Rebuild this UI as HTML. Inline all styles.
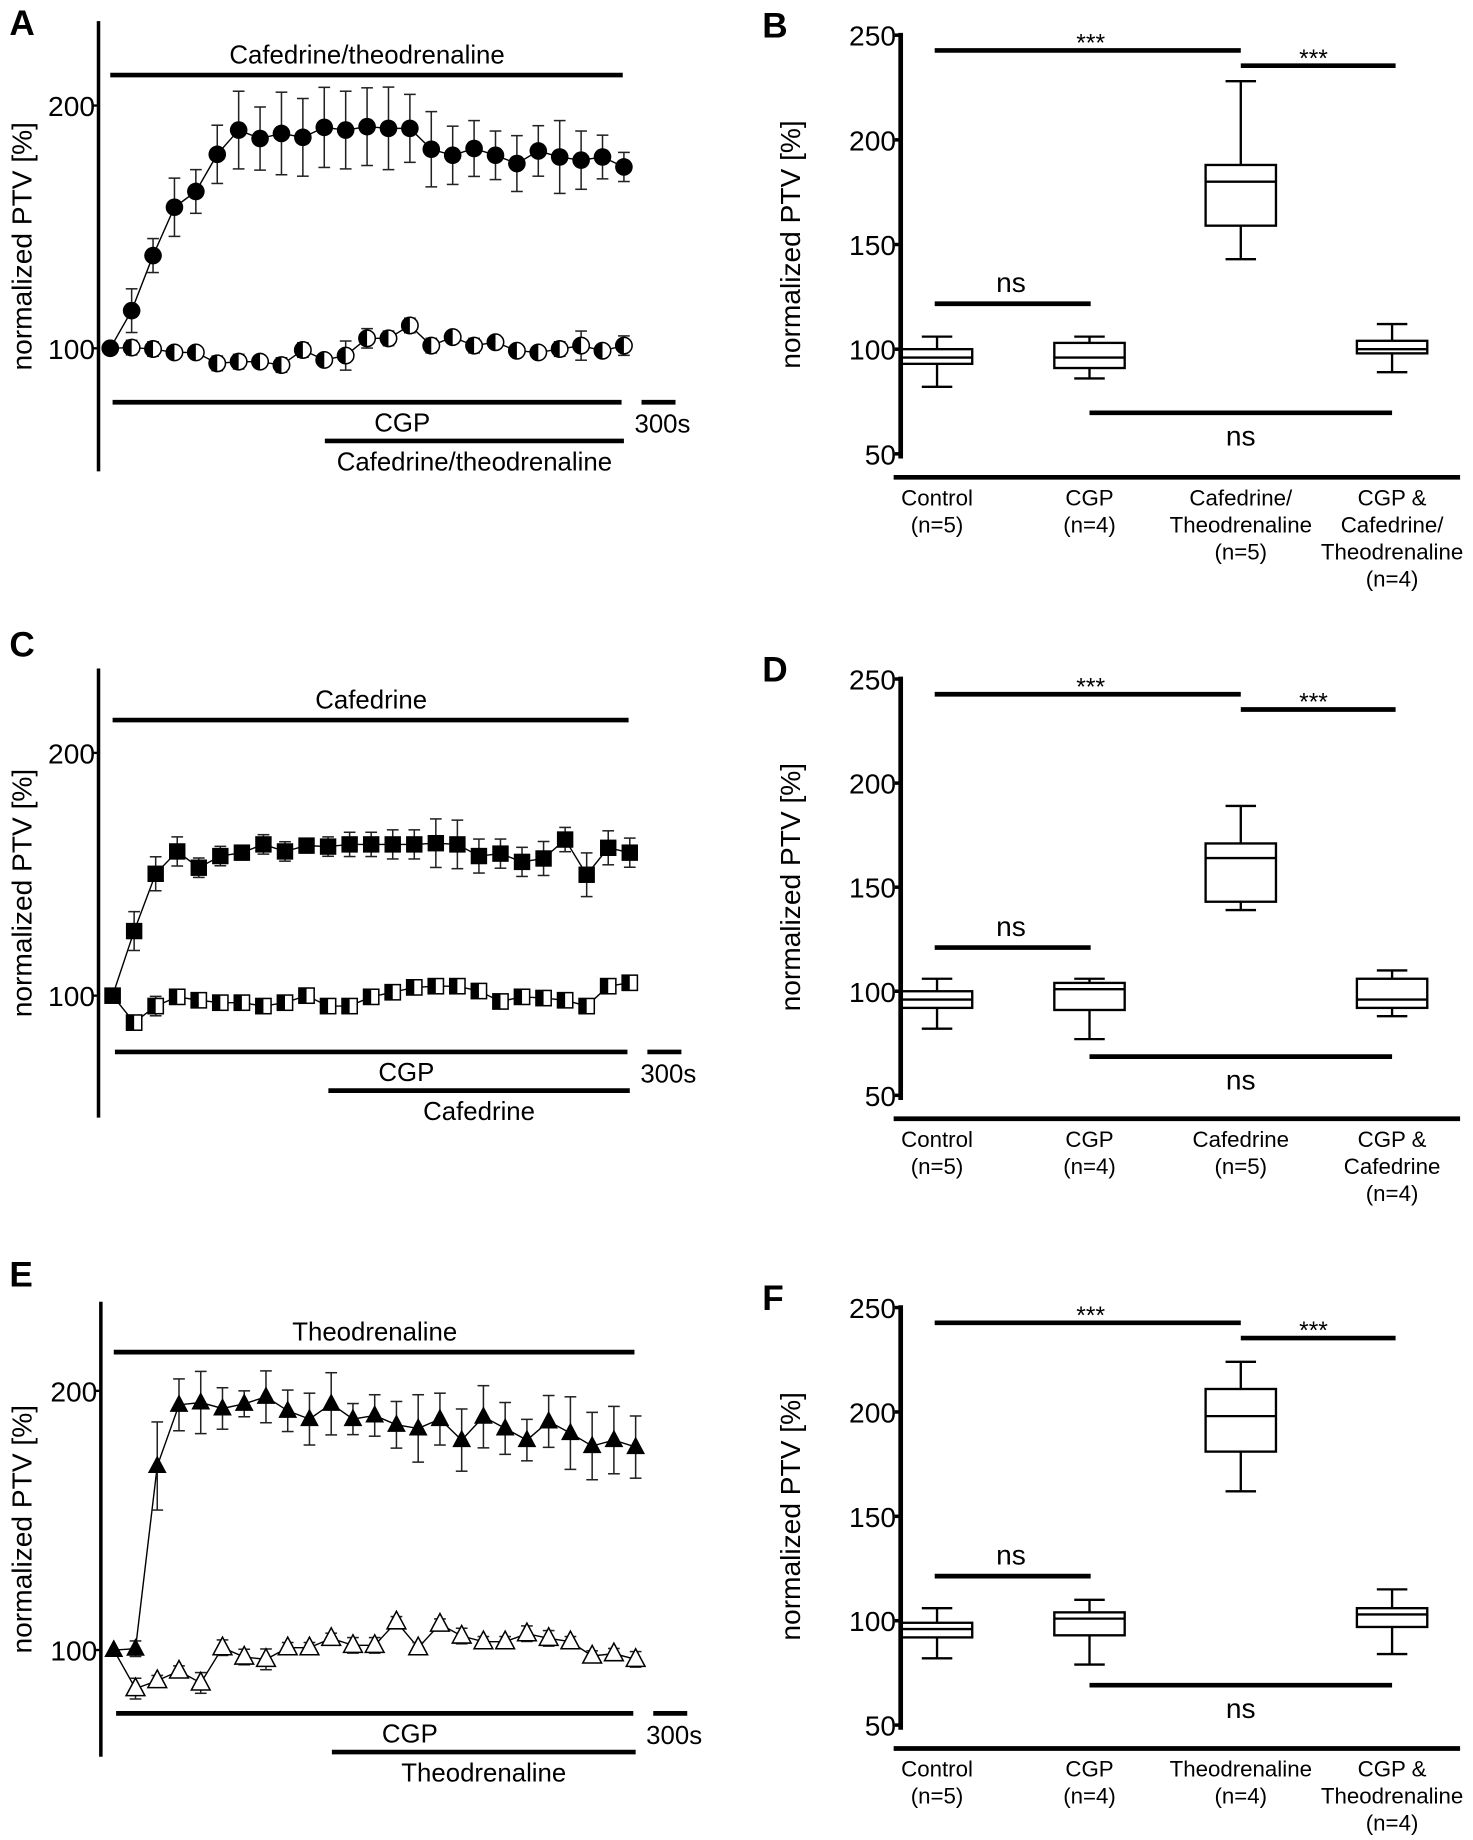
<!DOCTYPE html>
<html><head><meta charset="utf-8"><style>
html,body{margin:0;padding:0;background:#fff;}
svg{display:block;font-family:"Liberation Sans",sans-serif;}
</style></head><body>
<svg id="fig" width="1473" height="1840" viewBox="0 0 1256 1569" preserveAspectRatio="none" xmlns="http://www.w3.org/2000/svg"></svg>
<script>
// ---- Panel A data ----
const aFilled=[100,115.5,138.2,158.1,164.6,179.9,189.9,186.4,188.5,186.9,191.0,189.9,191.3,190.6,190.6,182.0,179.5,182.3,179.5,176.1,181.3,178.8,177.5,178.8,174.7];
const aFilledErr=[0,9,7,12,9,12,16,13,17,16,16.5,16,16,17,14,15.5,12,11.5,10,11.5,10.4,15,12,9,6];
const aOpen=[100,100.3,99.7,98.3,98.3,93.8,94.5,94.5,93.1,99.3,95.2,97.0,104.1,104.1,109.4,101.1,104.6,101.1,102.5,99.0,98.3,99.7,101.1,99.0,101.1];
const aOpenErr=[0,3,3,2,2,3,3,2,3,3,2,6,4,3,3,3,2,3,2,2,2,3,6,2,4];
// ---- Panel C data ----
const cFilled=[100,126.6,150.2,159.4,152.7,157.5,158.9,162.3,159.4,161.8,161.4,162.3,162.3,162.3,162.3,162.8,162.3,157.5,158.5,155.1,156.5,164.3,149.8,160.9,158.9];
const cFilledErr=[0,8,7,6,4,4,3,4,4,3,4,5,5,6,6,10,10,7,6,6,7,5,9,7,6];
const cOpen=[100,88.9,95.7,99.5,98.1,97.1,97.1,95.7,97.1,100,95.7,95.7,99.5,101.4,103.4,103.9,103.9,101.9,97.6,99.5,99,98.1,95.7,103.9,105.3];
const cOpenErr=[0,2,4,3,2,2,2,2,2,2,2,2,2,2,2,2,3,2,2,2,2,2,3,2,2];
// ---- Panel E data ----
const eFilled=[100,100.5,171,194.6,195.5,193.2,195,197.7,192.3,189.1,195,189.1,190.5,186.9,185.5,189.1,181,190,185.5,181,188.2,183.7,178.7,181,178.3];
const eFilledErr=[0,3,17,10,12,8,5,10,8,10,12,6,8,9,13,10,12,12,10,8,10,14,13,13,12];
const eOpen=[100,85.1,88.2,91.9,87.3,100.9,97.3,96.4,100.9,100.9,104.5,101.8,101.8,110.9,100.9,110,105.4,103.2,103.2,106.3,104.5,103.2,97.7,98.6,96.4];
const eOpenErr=[0,4,2,2,4,3,3,4,2,2,2,3,3,2,2,2,3,2,2,3,3,2,2,2,3];
// ---- Box panel data: [whiskerLow, q1, median, q3, whiskerHigh] ----
const bBoxes=[[82,93,96,100,106],[86,91,96,103,106],[143,159,180,188,228],[89,98,100,104,112]];
const dBoxes=[[82,92,96,100,106],[77,91,101,104,106],[139,143,164,171,189],[88,92,96,106,110]];
const fBoxes=[[82,92,96,99,106],[79,93,101,104,110],[162,181,198,211,224],[84,97,103,106,115]];
const yTicksTrace=[100,200];
const yTicksBox=[50,100,150,200,250];

const NS='http://www.w3.org/2000/svg';
const svg=document.getElementById('fig');
function mk(tag,attrs,parent){const e=document.createElementNS(NS,tag);for(const k in attrs)e.setAttribute(k,attrs[k]);(parent||svg).appendChild(e);return e;}
function txt(x,y,s,size,anchor,parent,weight){const t=mk('text',{x:x,y:y,'font-size':size,'text-anchor':anchor||'middle','font-weight':weight||'normal',fill:'#000'},parent);t.textContent=s;return t;}
function line(x1,y1,x2,y2,w,parent){return mk('line',{x1:x1,y1:y1,x2:x2,y2:y2,stroke:'#000','stroke-width':w},parent);}

function tracePanel(o){
  const g=mk('g',{});
  
  
  const yS=v=>o.y100-(v-100)*o.ppu;
  const xS=i=>o.x0+i*(o.x1-o.x0)/24;
  const lab=txt(8,o.labelY,o.letter,30,'start',g,'bold');
  
  const ax=line(o.ax,o.axTop,o.ax,o.axBot,3,g);
  
  yTicksTrace.forEach(v=>{line(o.ax-5,yS(v),o.ax,yS(v),2,g);const t=txt(o.ax-3,yS(v)+9,String(v),24,'end',g);});
  const yt=txt(0,0,'normalized PTV [%]',24,'middle',g);
  yt.setAttribute('transform','translate(27,'+((o.axTop+o.axBot)/2)+') rotate(-90)');
  
  line(o.x0,o.topBarY,o.x1-1,o.topBarY,4,g);
  txt((o.x0+o.x1)/2,o.topBarY-10,o.drug,22,'middle',g);
  line(o.x0+2,o.botBarY,o.x1-2,o.botBarY,4,g);
  txt((o.x0+o.x1)/2+30,o.botBarY+25,'CGP',22,'middle',g);
  line(o.bar2X,o.botBarY+33,o.x1,o.botBarY+33,4,g);
  txt((o.bar2X+o.x1)/2,o.botBarY+58,o.drug,22,'middle',g);
  line(o.x1+15,o.botBarY,o.x1+44,o.botBarY,4,g);
  txt(o.x1+9,o.botBarY+26,'300s',22,'start',g);
  [[o.open,o.openErr,'open'],[o.filled,o.filledErr,'filled']].forEach(([vals,errs,kind])=>{
    const sg=mk('g',{},g);
    
    
    const pl=mk('polyline',{points:vals.map((v,i)=>xS(i)+','+yS(v)).join(' '),fill:'none',stroke:'#000','stroke-width':1.2},sg);
    
    vals.forEach((v,i)=>{
      const x=xS(i),y=yS(v),e=errs[i];
      if(e>0){
        mk('line',{x1:x,y1:yS(v+e),x2:x,y2:yS(v-e),stroke:'#222','stroke-width':1.3},sg);
        mk('line',{x1:x-5,y1:yS(v+e),x2:x+5,y2:yS(v+e),stroke:'#222','stroke-width':1.3},sg);
        mk('line',{x1:x-5,y1:yS(v-e),x2:x+5,y2:yS(v-e),stroke:'#222','stroke-width':1.3},sg);
      }
      const fill=(kind==='filled'||i===0);
      let m;
      if(o.marker==='circle'){
        if(fill){m=mk('circle',{cx:x,cy:y,r:7.5,fill:'#000'},sg);}
        else{m=mk('g',{},sg);mk('circle',{cx:x,cy:y,r:7,fill:'#fff',stroke:'#000','stroke-width':1.3},m);mk('path',{d:`M${x},${y-7} A7,7 0 0 0 ${x},${y+7} Z`,fill:'#000'},m);}
      }else if(o.marker==='square'){
        if(fill){m=mk('rect',{x:x-7,y:y-7,width:14,height:14,fill:'#000'},sg);}
        else{m=mk('g',{},sg);mk('rect',{x:x-6.5,y:y-6.5,width:13,height:13,fill:'#fff',stroke:'#000','stroke-width':1.3},m);mk('rect',{x:x-6.5,y:y-6.5,width:6.5,height:13,fill:'#000'},m);}
      }else{
        if(fill){m=mk('polygon',{points:`${x},${y-9} ${x-8},${y+6} ${x+8},${y+6}`,fill:'#000'},sg);}
        else{m=mk('polygon',{points:`${x},${y-9} ${x-8},${y+6} ${x+8},${y+6}`,fill:'#fff',stroke:'#000','stroke-width':1.3},sg);}
      }
      
      
    });
  });
}

function boxPanel(o){
  const g=mk('g',{});
  
  
  const ppu=(o.y50-o.y250)/200;
  const yS=v=>o.y50-(v-50)*ppu;
  const cx=[799,929,1058,1187];
  const lab=txt(650,o.y250+2,o.letter,30,'start',g,'bold');
  
  const ax=line(768,o.y250-2,768,o.y50+4,4,g);
  
  yTicksBox.forEach(v=>{line(763,yS(v),768,yS(v),3,g);const t=txt(764,yS(v)+9,String(v),24,'end',g);});
  const yt=txt(0,0,'normalized PTV [%]',24,'middle',g);
  yt.setAttribute('transform','translate(682,'+((o.y250+o.y50)/2)+') rotate(-90)');
  
  const xa=line(762,o.y50+20,1245,o.y50+20,4,g);
  
  o.boxes.forEach((b,i)=>{
    const bg=mk('g',{},g);
    
    
    const x=cx[i],w=30;
    line(x,yS(b[4]),x,yS(b[3]),2,bg);line(x,yS(b[1]),x,yS(b[0]),2,bg);
    line(x-13,yS(b[4]),x+13,yS(b[4]),2,bg);line(x-13,yS(b[0]),x+13,yS(b[0]),2,bg);
    mk('rect',{x:x-w,y:yS(b[3]),width:2*w,height:yS(b[1])-yS(b[3]),fill:'#fff',stroke:'#000','stroke-width':2},bg);
    line(x-w,yS(b[2]),x+w,yS(b[2]),2,bg);
  });
  o.labels.forEach((ls,i)=>ls.forEach((s,j)=>{const t=txt(cx[i],o.y50+44+j*23,s,19,'middle',g);}));
  line(797,o.y250+13,1058,o.y250+13,4,g);txt(930,o.y250+14,'***',21,'middle',g);
  line(1058,o.y250+26,1190,o.y250+26,4,g);txt(1120,o.y250+27,'***',21,'middle',g);
  line(797,o.y250+229,930,o.y250+229,4,g);txt(862,o.y250+219,'ns',24,'middle',g);
  line(929,o.y250+322,1187,o.y250+322,4,g);txt(1058,o.y250+350,'ns',24,'middle',g);
}

tracePanel({name:'panel-a',letter:'A',labelY:30,ax:84,axTop:18,axBot:402,y100:297,ppu:2.07,x0:94,x1:532,topBarY:64,botBarY:343,bar2X:277,drug:'Cafedrine/theodrenaline',marker:'circle',filled:aFilled,filledErr:aFilledErr,open:aOpen,openErr:aOpenErr});
tracePanel({name:'panel-c',letter:'C',labelY:560,ax:84,axTop:570,axBot:953,y100:849,ppu:2.07,x0:96,x1:537,topBarY:614,botBarY:897,bar2X:280,drug:'Cafedrine',marker:'square',filled:cFilled,filledErr:cFilledErr,open:cOpen,openErr:cOpenErr});
tracePanel({name:'panel-e',letter:'E',labelY:1097,ax:86,axTop:1110,axBot:1498,y100:1407,ppu:2.21,x0:97,x1:542,topBarY:1153,botBarY:1461,bar2X:283,drug:'Theodrenaline',marker:'triangle',filled:eFilled,filledErr:eFilledErr,open:eOpen,openErr:eOpenErr});
boxPanel({name:'panel-b',letter:'B',y250:30,y50:387,boxes:bBoxes,labels:[['Control','(n=5)'],['CGP','(n=4)'],['Cafedrine/','Theodrenaline','(n=5)'],['CGP &','Cafedrine/','Theodrenaline','(n=4)']]});
boxPanel({name:'panel-d',letter:'D',y250:579,y50:934,boxes:dBoxes,labels:[['Control','(n=5)'],['CGP','(n=4)'],['Cafedrine','(n=5)'],['CGP &','Cafedrine','(n=4)']]});
boxPanel({name:'panel-f',letter:'F',y250:1115,y50:1471,boxes:fBoxes,labels:[['Control','(n=5)'],['CGP','(n=4)'],['Theodrenaline','(n=4)'],['CGP &','Theodrenaline','(n=4)']]});
</script>
</body></html>
